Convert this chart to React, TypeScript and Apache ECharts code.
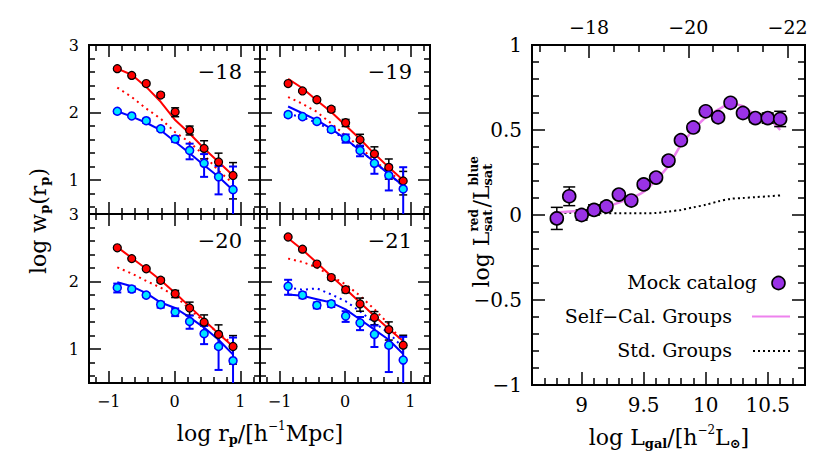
import React, { useEffect, useRef } from 'react';
import * as echarts from 'echarts';

const SERIF = "'DejaVu Serif', 'Liberation Serif', serif";

// ---------- Left panels: projected correlation functions ----------
const RP_BINS = [-0.87, -0.65, -0.43, -0.21, 0.01, 0.23, 0.45, 0.67, 0.89];
const RP_RANGE = [-1.3, 1.3];
const WP_RANGE = [0.5, 3];
const RP_TICKS_MAJOR = [-1, 0, 1];
const RP_TICKS_MINOR = [-1.2, -0.8, -0.6, -0.4, -0.2, 0.2, 0.4, 0.6, 0.8, 1.2];
const WP_TICKS_MAJOR = [1, 2, 3];
const WP_TICKS_MINOR = [0.6, 0.8, 1.2, 1.4, 1.6, 1.8, 2.2, 2.4, 2.6, 2.8];
const PANEL_LABELS = ['−18', '−19', '−20', '−21'];

// Mr = -18
const RED_18 = [2.65, 2.55, 2.43, 2.26, 2.01, 1.74, 1.47, 1.27, 1.07];
const RED_ERR_18 = [0.03, 0.03, 0.04, 0.07, 0.15, 0.15, 0.3, 0.35, 0.55];
const RED_SC_18 = [2.65, 2.56, 2.38, 2.16, 1.89, 1.69, 1.47, 1.27, 1.07];
const RED_STD_18 = [2.37, 2.23, 2.06, 1.91, 1.71, 1.56, 1.37, 1.14, 0.95];
const BLUE_18 = [2.02, 1.95, 1.88, 1.76, 1.61, 1.44, 1.25, 1.05, 0.86];
const BLUE_ERR_18 = [0.04, 0.04, 0.07, 0.07, 0.1, 0.26, 0.37, 0.45, 1.2];
const BLUE_SC_18 = [2.02, 1.94, 1.85, 1.74, 1.57, 1.4, 1.22, 1.05, 0.85];

// Mr = -19
const RED_19 = [2.43, 2.32, 2.19, 2.05, 1.85, 1.6, 1.39, 1.19, 0.99];
const RED_ERR_19 = [0.03, 0.03, 0.04, 0.08, 0.12, 0.2, 0.27, 0.33, 0.38];
const RED_SC_19 = [2.5, 2.36, 2.18, 2.01, 1.81, 1.61, 1.39, 1.19, 1.0];
const RED_STD_19 = [2.23, 2.13, 2.01, 1.84, 1.66, 1.49, 1.29, 1.12, 0.97];
const BLUE_19 = [1.97, 1.94, 1.87, 1.75, 1.62, 1.44, 1.25, 1.07, 0.87];
const BLUE_ERR_19 = [0.07, 0.05, 0.06, 0.08, 0.14, 0.18, 0.3, 0.4, 1.1];
const BLUE_SC_19 = [2.09, 1.99, 1.89, 1.76, 1.61, 1.44, 1.27, 1.09, 0.92];
const BLUE_STD_19 = [1.98, 1.93, 1.85, 1.74, 1.6, 1.44, 1.27, 1.09, 0.91];

// Mr = -20
const RED_20 = [2.5, 2.34, 2.19, 2.02, 1.82, 1.61, 1.4, 1.22, 1.04];
const RED_ERR_20 = [0.03, 0.03, 0.04, 0.07, 0.12, 0.22, 0.28, 0.38, 0.45];
const RED_SC_20 = [2.51, 2.35, 2.19, 2.02, 1.83, 1.63, 1.43, 1.23, 1.04];
const RED_STD_20 = [2.21, 2.12, 2.01, 1.91, 1.79, 1.59, 1.41, 1.24, 1.07];
const BLUE_20 = [1.91, 1.89, 1.8, 1.66, 1.55, 1.41, 1.23, 1.04, 0.83];
const BLUE_ERR_20 = [0.15, 0.09, 0.07, 0.1, 0.13, 0.22, 0.3, 0.55, 1.2];
const BLUE_SC_20 = [1.99, 1.93, 1.83, 1.69, 1.61, 1.47, 1.32, 1.14, 0.92];

// Mr = -21
const RED_21 = [2.66, 2.48, 2.26, 2.06, 1.88, 1.67, 1.47, 1.29, 1.06];
const RED_ERR_21 = [0.03, 0.03, 0.04, 0.07, 0.1, 0.22, 0.22, 0.3, 0.4];
const RED_SC_21 = [2.64, 2.47, 2.28, 2.08, 1.89, 1.69, 1.49, 1.3, 1.12];
const RED_STD_21 = [2.34, 2.29, 2.21, 2.08, 1.96, 1.79, 1.59, 1.37, 1.09];
const BLUE_21 = [1.93, 1.8, 1.65, 1.67, 1.49, 1.39, 1.22, 1.06, 0.84];
const BLUE_ERR_21 = [0.25, 0.1, 0.1, 0.1, 0.18, 0.22, 0.35, 0.6, 1.2];
const BLUE_SC_21 = [1.81, 1.79, 1.74, 1.69, 1.59, 1.44, 1.29, 1.14, 0.93];
const BLUE_STD_21 = [1.91, 1.88, 1.9, 1.81, 1.71, 1.56, 1.39, 1.24, 1.02];

const PANELS = [
  { label: PANEL_LABELS[0], red: RED_18, redErr: RED_ERR_18, redSC: RED_SC_18, redStd: RED_STD_18, blue: BLUE_18, blueErr: BLUE_ERR_18, blueSC: BLUE_SC_18, blueStd: null as number[] | null },
  { label: PANEL_LABELS[1], red: RED_19, redErr: RED_ERR_19, redSC: RED_SC_19, redStd: RED_STD_19, blue: BLUE_19, blueErr: BLUE_ERR_19, blueSC: BLUE_SC_19, blueStd: BLUE_STD_19 },
  { label: PANEL_LABELS[2], red: RED_20, redErr: RED_ERR_20, redSC: RED_SC_20, redStd: RED_STD_20, blue: BLUE_20, blueErr: BLUE_ERR_20, blueSC: BLUE_SC_20, blueStd: null as number[] | null },
  { label: PANEL_LABELS[3], red: RED_21, redErr: RED_ERR_21, redSC: RED_SC_21, redStd: RED_STD_21, blue: BLUE_21, blueErr: BLUE_ERR_21, blueSC: BLUE_SC_21, blueStd: BLUE_STD_21 },
];

// ---------- Right panel: luminosity ratio of red / blue satellites ----------
const LGAL_RANGE = [8.6, 10.8];
const RATIO_RANGE = [-1, 1];
const LGAL = [8.8, 8.9, 9.0, 9.1, 9.2, 9.3, 9.4, 9.5, 9.6, 9.7, 9.8, 9.9, 10.0, 10.1, 10.2, 10.3, 10.4, 10.5, 10.6];
const MOCK = [-0.02, 0.11, 0.0, 0.03, 0.05, 0.12, 0.085, 0.18, 0.22, 0.32, 0.44, 0.515, 0.61, 0.575, 0.66, 0.6, 0.57, 0.57, 0.565];
const MOCK_ERR = [0.065, 0.055, 0.03, 0.03, 0.025, 0.02, 0.02, 0.02, 0.02, 0.02, 0.02, 0.02, 0.02, 0.02, 0.02, 0.02, 0.025, 0.03, 0.045];
const CURVE_L = [8.78, 8.9, 9.0, 9.1, 9.2, 9.3, 9.4, 9.5, 9.6, 9.7, 9.8, 9.9, 10.0, 10.1, 10.2, 10.3, 10.4, 10.5, 10.6];
const SELF_CAL = [0.014, 0.02, 0.025, 0.035, 0.047, 0.073, 0.1, 0.137, 0.206, 0.29, 0.412, 0.5, 0.575, 0.62, 0.653, 0.64, 0.588, 0.569, 0.5];
const STD_GROUPS = [0.014, 0.013, 0.012, 0.011, 0.01, 0.01, 0.01, 0.01, 0.012, 0.02, 0.03, 0.045, 0.06, 0.08, 0.095, 0.1, 0.105, 0.11, 0.115];
const LGAL_TICKS_MAJOR = [9, 9.5, 10, 10.5];
const LGAL_TICKS_MINOR = [8.7, 8.8, 8.9, 9.1, 9.2, 9.3, 9.4, 9.6, 9.7, 9.8, 9.9, 10.1, 10.2, 10.3, 10.4, 10.6, 10.7];
const RATIO_TICKS_MAJOR = [-1, -0.5, 0, 0.5, 1];
const RATIO_TICKS_MINOR = [-0.9, -0.8, -0.7, -0.6, -0.4, -0.3, -0.2, -0.1, 0.1, 0.2, 0.3, 0.4, 0.6, 0.7, 0.8, 0.9];
const MAG_TICKS_MAJOR = [-18, -20, -22];
const MAG_TICKS_MINOR = [-17, -17.5, -18.5, -19, -19.5, -20.5, -21, -21.5];
const M_SUN = 4.65;

const LEGEND_NAMES = ['Mock catalog', 'Self−Cal. Groups', 'Std. Groups'];

// ---------- layout / style ----------
const GRIDS = [
  { left: 89, top: 45, width: 171, height: 169 },
  { left: 260, top: 45, width: 170, height: 169 },
  { left: 89, top: 214, width: 171, height: 169 },
  { left: 260, top: 214, width: 170, height: 169 },
  { left: 532, top: 45, width: 273, height: 340 },
];
const RED = '#ff0000';
const BLUE = '#0000ff';
const CYAN = '#00e5ff';
const VIOLET = '#ee82ee';
const PURPLE = '#9a32e6';

const fmt = (v: number) => (v < 0 ? '−' + String(Math.abs(v)) : String(v));

function axis(gridIndex: number, position: string, range: number[], ticks: number[], len: number, label: any, extra: any = {}) {
  return {
    type: 'value',
    gridIndex,
    position,
    min: range[0],
    max: range[1],
    splitLine: { show: false },
    axisLine: { show: true, onZero: false, lineStyle: { color: '#000', width: 2 } },
    axisTick: { show: true, inside: true, length: len, customValues: ticks, lineStyle: { color: '#000', width: 1.5 } },
    minorTick: { show: false },
    axisLabel: label
      ? { show: true, customValues: label.values, formatter: fmt, fontFamily: SERIF, fontSize: label.size, color: '#000', margin: label.margin }
      : { show: false },
    ...extra,
  };
}

function errRender(color: string, half: number, width: number) {
  return (params: any, api: any) => {
    const x = api.value(0);
    const p1 = api.coord([x, api.value(1)]);
    const p2 = api.coord([x, api.value(2)]);
    const st = { stroke: color, lineWidth: width };
    return {
      type: 'group',
      children: [
        { type: 'line', shape: { x1: p1[0], y1: p1[1], x2: p2[0], y2: p2[1] }, style: st },
        { type: 'line', shape: { x1: p1[0] - half, y1: p1[1], x2: p1[0] + half, y2: p1[1] }, style: st },
        { type: 'line', shape: { x1: p2[0] - half, y1: p2[1], x2: p2[0] + half, y2: p2[1] }, style: st },
      ],
    };
  };
}

const logErr = (y: number[], f: number[]) =>
  RP_BINS.map((x, k) => [x, y[k] + Math.log10(Math.max(1 - f[k], 1e-3)), y[k] + Math.log10(1 + f[k])]);

function textWidth(str: string, font: string) {
  const ctx = document.createElement('canvas').getContext('2d')!;
  ctx.font = font;
  return ctx.measureText(str).width;
}

function buildOption() {
  const xAxes: any[] = [];
  const yAxes: any[] = [];
  const series: any[] = [];

  PANELS.forEach((p, i) => {
    const showX = i >= 2;
    const showY = i % 2 === 0;
    const xi = xAxes.length;
    xAxes.push(axis(i, 'bottom', RP_RANGE, RP_TICKS_MAJOR, 12, showX ? { values: RP_TICKS_MAJOR, size: 16, margin: 10 } : null));
    xAxes.push(axis(i, 'bottom', RP_RANGE, RP_TICKS_MINOR, 6, null));
    xAxes.push(axis(i, 'top', RP_RANGE, RP_TICKS_MAJOR, 12, null));
    xAxes.push(axis(i, 'top', RP_RANGE, RP_TICKS_MINOR, 6, null));
    const yi = yAxes.length;
    yAxes.push(axis(i, 'left', WP_RANGE, WP_TICKS_MAJOR, 12, showY ? { values: WP_TICKS_MAJOR, size: 16, margin: 10 } : null));
    yAxes.push(axis(i, 'left', WP_RANGE, WP_TICKS_MINOR, 6, null));
    yAxes.push(axis(i, 'right', WP_RANGE, WP_TICKS_MAJOR, 12, null));
    yAxes.push(axis(i, 'right', WP_RANGE, WP_TICKS_MINOR, 6, null));

    const base = { xAxisIndex: xi, yAxisIndex: yi, silent: true };
    const pts = (arr: number[]) => RP_BINS.map((x, k) => [x, arr[k]]);
    series.push({ ...base, type: 'line', data: pts(p.redStd), symbol: 'none', lineStyle: { color: RED, width: 2, type: [2, 4] }, z: 2 });
    if (p.blueStd) series.push({ ...base, type: 'line', data: pts(p.blueStd), symbol: 'none', lineStyle: { color: BLUE, width: 2, type: [2, 4] }, z: 2 });
    series.push({ ...base, type: 'line', data: pts(p.redSC), symbol: 'none', lineStyle: { color: RED, width: 2 }, z: 3 });
    series.push({ ...base, type: 'line', data: pts(p.blueSC), symbol: 'none', lineStyle: { color: BLUE, width: 2 }, z: 3 });
    series.push({ ...base, type: 'custom', clip: true, data: logErr(p.red, p.redErr), renderItem: errRender('#000', 4, 1.5), z: 4 });
    series.push({ ...base, type: 'custom', clip: true, data: logErr(p.blue, p.blueErr), renderItem: errRender(BLUE, 4, 2), z: 4 });
    series.push({ ...base, type: 'scatter', data: pts(p.red), symbol: 'circle', symbolSize: 8, itemStyle: { color: RED, borderColor: '#000', borderWidth: 1.2, opacity: 1 }, z: 5 });
    series.push({ ...base, type: 'scatter', data: pts(p.blue), symbol: 'circle', symbolSize: 8, itemStyle: { color: CYAN, borderColor: BLUE, borderWidth: 1.5, opacity: 1 }, z: 5 });
  });

  // right panel
  const g = 4;
  const rxi = xAxes.length;
  xAxes.push(axis(g, 'bottom', LGAL_RANGE, LGAL_TICKS_MAJOR, 13, { values: LGAL_TICKS_MAJOR, size: 20, margin: 10 }));
  xAxes.push(axis(g, 'bottom', LGAL_RANGE, LGAL_TICKS_MINOR, 7, null));
  const magRange = [M_SUN - 2.5 * LGAL_RANGE[1], M_SUN - 2.5 * LGAL_RANGE[0]];
  xAxes.push(axis(g, 'top', magRange, MAG_TICKS_MAJOR, 13, { values: MAG_TICKS_MAJOR, size: 19, margin: 9 }, { inverse: true }));
  xAxes.push(axis(g, 'top', magRange, MAG_TICKS_MINOR, 7, null, { inverse: true }));
  const ryi = yAxes.length;
  yAxes.push(axis(g, 'left', RATIO_RANGE, RATIO_TICKS_MAJOR, 13, { values: RATIO_TICKS_MAJOR, size: 20, margin: 10 }));
  yAxes.push(axis(g, 'left', RATIO_RANGE, RATIO_TICKS_MINOR, 7, null));
  yAxes.push(axis(g, 'right', RATIO_RANGE, RATIO_TICKS_MAJOR, 13, null));
  yAxes.push(axis(g, 'right', RATIO_RANGE, RATIO_TICKS_MINOR, 7, null));

  const rb = { xAxisIndex: rxi, yAxisIndex: ryi, silent: true };
  const STD_LINE = { color: '#000', width: 2, type: [2, 3] };
  const SC_LINE = { color: VIOLET, width: 2.5 };
  const MOCK_STYLE = { color: PURPLE, borderColor: '#000', borderWidth: 1.6, opacity: 1 };
  series.push({ ...rb, type: 'line', name: LEGEND_NAMES[2], data: CURVE_L.map((x, k) => [x, STD_GROUPS[k]]), symbol: 'none', smooth: 0.3, lineStyle: STD_LINE, z: 2 });
  series.push({ ...rb, type: 'line', name: LEGEND_NAMES[1], data: CURVE_L.map((x, k) => [x, SELF_CAL[k]]), symbol: 'none', smooth: 0.3, lineStyle: SC_LINE, z: 3 });
  series.push({ ...rb, type: 'custom', name: 'mock errors', clip: true, data: LGAL.map((x, k) => [x, MOCK[k] - MOCK_ERR[k], MOCK[k] + MOCK_ERR[k]]), renderItem: errRender('#000', 6, 1.5), z: 4 });
  series.push({ ...rb, type: 'scatter', name: LEGEND_NAMES[0], data: LGAL.map((x, k) => [x, MOCK[k]]), symbol: 'circle', symbolSize: 13, itemStyle: MOCK_STYLE, z: 5 });

  // legend (text on the left, key on the right)
  const legText = (text: string, x: number, y: number) => ({
    type: 'text', x, y, silent: true,
    style: { text, fontFamily: SERIF, fontSize: 19, fill: '#000', align: 'right', verticalAlign: 'middle' },
  });
  const legendGraphic = [
    legText(LEGEND_NAMES[0], 757, 282),
    { type: 'circle', silent: true, shape: { cx: 778.5, cy: 283, r: 6.5 }, style: { fill: PURPLE, stroke: '#000', lineWidth: 1.6 } },
    legText(LEGEND_NAMES[1], 732, 316),
    { type: 'line', silent: true, shape: { x1: 752, y1: 316.5, x2: 790, y2: 316.5 }, style: { stroke: VIOLET, lineWidth: 2 } },
    legText(LEGEND_NAMES[2], 732, 350),
    { type: 'line', silent: true, shape: { x1: 753, y1: 351, x2: 792, y2: 351 }, style: { stroke: '#000', lineWidth: 2, lineDash: [2, 3] } },
  ];

  // titles
  const mainStyle = { fontFamily: SERIF, fontSize: 22, lineHeight: 28, fill: '#000', align: 'left' };
  const subStyle = { fontFamily: SERIF, fontSize: 13, fontWeight: 'bold', verticalAlign: 'bottom', height: 15, fill: '#000', align: 'left' };
  const supStyle = { fontFamily: SERIF, fontSize: 12, verticalAlign: 'top', height: 13, fill: '#000', align: 'left' };
  const rich = { m: mainStyle, sub: subStyle, sup: supStyle };
  const titleText = (text: string, x: number, y: number) => ({
    type: 'text', x, y, silent: true,
    style: { text, rich, align: 'center', verticalAlign: 'middle', fontFamily: SERIF, fontSize: 22 },
  });

  const supBold = { ...supStyle, fontWeight: 'bold' };
  const supFontR = `bold 12px ${SERIF}`;
  const subFontR = `bold 13px ${SERIF}`;
  const w1 = Math.ceil(Math.max(textWidth('red', supFontR), textWidth('sat', subFontR))) + 1;
  const w2 = Math.ceil(Math.max(textWidth('blue', supFontR), textWidth('sat', subFontR))) + 1;
  const richR = {
    m: mainStyle,
    t: { ...mainStyle, fill: 'rgba(0,0,0,0)' },
    r: { ...supBold, width: w1 },
    s1: { ...subStyle, width: w1 },
    b: { ...supBold, width: w2 },
    s2: { ...subStyle, width: w2 },
  };
  const rtxt = (text: string) => ({ type: 'text', x: 0, y: 0, silent: true, style: { text, rich: richR, align: 'center', verticalAlign: 'middle', fontFamily: SERIF, fontSize: 22 } });

  const graphic: any[] = [
    ...PANELS.map((p, i) => ({
      type: 'text', silent: true,
      x: GRIDS[i].left + GRIDS[i].width - 18,
      y: GRIDS[i].top + 27,
      style: { text: p.label, fontFamily: SERIF, fontSize: 21, fill: '#000', align: 'right', verticalAlign: 'middle' },
    })),
    titleText('{m|log r}{sub|p}{m|/[h}{sup|−1}{m|Mpc]}', 260, 433),
    titleText('{m|log L}{sub|gal}{m|/[h}{sup|−2}{m|L}{sub|⊙}{m|]}', 669, 437),
    { type: 'group', x: 38, y: 221, rotation: Math.PI / 2, children: [titleText('{m|log w}{sub|p}{m|(r}{sub|p}{m|)}', 0, 0)] },
    { type: 'group', x: 481, y: 221, rotation: Math.PI / 2, children: [rtxt('{m|log L}{r|red}{m|/L}{b|blue}'), rtxt('{t|log L}{s1|sat}{t|/L}{s2|sat}')] },
    ...legendGraphic,
  ];

  return {
    animation: false,
    backgroundColor: '#fff',
    textStyle: { fontFamily: SERIF },
    grid: GRIDS.map((gr) => ({ ...gr, containLabel: false })),
    xAxis: xAxes,
    yAxis: yAxes,
    series,
    graphic,
  };
}

export default function App() {
  const ref = useRef<HTMLDivElement>(null);
  useEffect(() => {
    const chart = echarts.init(ref.current!, null, { renderer: 'svg' });
    chart.setOption(buildOption() as any);
    return () => chart.dispose();
  }, []);
  return <div ref={ref} style={{ position: 'fixed', left: 0, top: 0, width: 830, height: 471, background: '#fff' }} />;
}
